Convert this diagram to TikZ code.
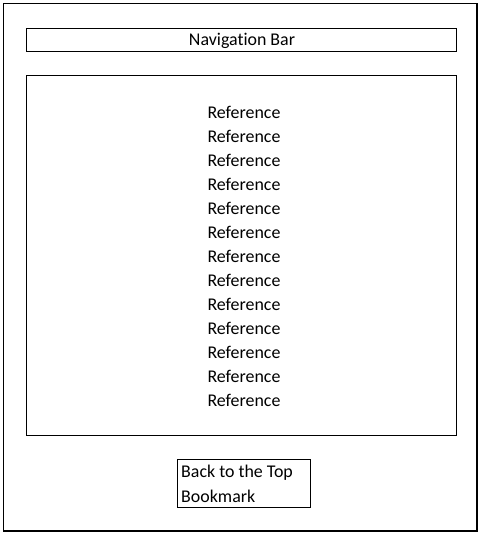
\documentclass[tikz,border=0pt]{standalone}
\usepackage{fontspec}
\setmainfont[Ligatures=NoCommon]{Carlito}
\begin{document}
\begin{tikzpicture}[x=1pt,y=-1pt,
  frame/.style={draw=black,line width=1.1pt},
  txt/.style={inner sep=0pt,font=\fontsize{17.9}{24}\selectfont}]
\useasboundingbox (0,0) rectangle (481,536);
\draw[frame] (3.5,3.5) rectangle (477,531);
\node[frame,minimum width=430pt,minimum height=23.5pt,inner sep=0pt,anchor=north west] (nav) at (26,27.5) {};
\node[txt] (navt) at (242,41) {Navigation Bar};
\node[frame,minimum width=430pt,minimum height=360pt,inner sep=0pt,anchor=north west] (main) at (26,75) {};
\foreach \i in {0,...,12}{
  \node[txt] (r\i) at (244,{112.5+24*\i}) {Reference};
}
\node[frame,minimum width=133pt,minimum height=48pt,inner sep=0pt,anchor=north west] (back) at (177,459) {};
\node[txt,anchor=west] (b1) at (181,472.5) {Back to the Top};
\node[txt,anchor=west] (b2) at (181,496.5) {Bookmark};
\end{tikzpicture}
\end{document}
